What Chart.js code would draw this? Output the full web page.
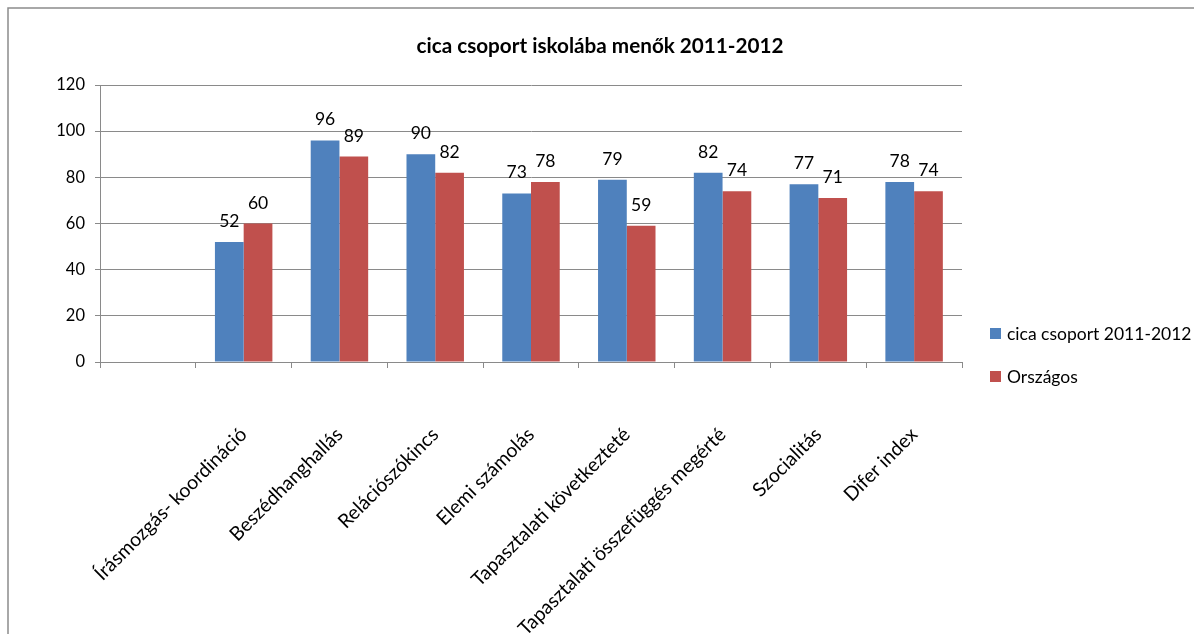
<!DOCTYPE html>
<html><head><meta charset="utf-8">
<script src="https://cdn.jsdelivr.net/npm/chart.js@4.4.1/dist/chart.umd.min.js"></script>
<style>html,body{margin:0;padding:0;background:#fff;} canvas{display:block}</style>
</head><body>
<canvas id="c" width="1194" height="634"></canvas>
<script>
const chartTitle = 'cica csoport iskolába menők 2011-2012';
const categories = ['', 'Írásmozgás- koordináció', 'Beszédhanghallás', 'Relációszókincs', 'Elemi számolás', 'Tapasztalati következtetés', 'Tapasztalati összefüggés megértése', 'Szocialitás', 'Difer index'];
const tickLabels = ['', 'Írásmozgás- koordináció', 'Beszédhanghallás', 'Relációszókincs', 'Elemi számolás', 'Tapasztalati következteté', 'Tapasztalati összefüggés megérté', 'Szocialitás', 'Difer index'];
const seriesNames = ['cica csoport 2011-2012', 'Országos'];
const groupValues = [null, 52, 96, 90, 73, 79, 82, 77, 78];
const nationalValues = [null, 60, 89, 82, 78, 59, 74, 71, 74];
const yMin = 0, yMax = 120, yStep = 20;

const FONT = 'Lato, "Open Sans", sans-serif';
const GRID = '#8a8a8a';
const COLORS = ['#4F81BD', '#C0504D'];

const decor = {
  id: 'decor',
  beforeDraw(chart) {
    const ctx = chart.ctx;
    ctx.save();
    ctx.fillStyle = '#fff';
    ctx.fillRect(0, 0, chart.width, chart.height);
    ctx.strokeStyle = '#8c8c8c';
    ctx.lineWidth = 1.5;
    ctx.beginPath();
    ctx.moveTo(8, chart.height);
    ctx.lineTo(8, 8);
    ctx.lineTo(chart.width, 8);
    ctx.stroke();
    ctx.restore();
  },
  afterDatasetsDraw(chart) {
    const ctx = chart.ctx;
    ctx.save();
    ctx.font = '17.5px ' + FONT;
    ctx.fillStyle = '#000';
    ctx.textAlign = 'center';
    ctx.textBaseline = 'alphabetic';
    chart.data.datasets.forEach((ds, i) => {
      const meta = chart.getDatasetMeta(i);
      meta.data.forEach((el, j) => {
        const v = ds.data[j];
        if (v === null || v === undefined) return;
        ctx.fillText(String(v), el.x, el.y - 15);
      });
    });
    ctx.restore();
  },
  afterDraw(chart) {
    const ctx = chart.ctx;
    ctx.save();
    ctx.fillStyle = '#000';
    ctx.font = 'bold 20.7px ' + FONT;
    ctx.textAlign = 'center';
    ctx.textBaseline = 'alphabetic';
    ctx.fillText(chartTitle, 600, 53);
    // legend
    ctx.font = '17.5px ' + FONT;
    ctx.textAlign = 'left';
    ctx.textBaseline = 'middle';
    const ys = [328, 371];
    chart.data.datasets.forEach((ds, i) => {
      ctx.fillStyle = ds.backgroundColor;
      ctx.fillRect(990, ys[i], 11, 11);
      ctx.fillStyle = '#000';
      ctx.fillText(ds.label, 1007, ys[i] + 6);
    });
    ctx.restore();
  }
};

new Chart(document.getElementById('c'), {
  type: 'bar',
  data: {
    labels: categories,
    datasets: [
      { label: seriesNames[0], data: groupValues, backgroundColor: COLORS[0], borderWidth: 0 },
      { label: seriesNames[1], data: nationalValues, backgroundColor: COLORS[1], borderWidth: 0 }
    ]
  },
  options: {
    responsive: false,
    animation: false,
    layout: { padding: { top: 85, left: 0, right: 232, bottom: 0 } },
    categoryPercentage: 0.6,
    barPercentage: 1.0,
    plugins: { legend: { display: false }, title: { display: false }, tooltip: { enabled: false } },
    scales: {
      x: {
        afterFit(scale) { scale.height = 634 - 362; },
        grid: { offset: true, drawOnChartArea: false, tickLength: 6, color: GRID },
        border: { color: GRID },
        ticks: {
          autoSkip: false, minRotation: 45, maxRotation: 45, padding: 55,
          color: '#000', font: { family: FONT, size: 19.5 },
          callback: (v, i) => tickLabels[i]
        }
      },
      y: {
        min: yMin, max: yMax,
        afterFit(scale) { scale.width = 100; },
        grid: { color: GRID, tickLength: 5 },
        border: { color: GRID },
        ticks: { stepSize: yStep, padding: 10, color: '#000', font: { family: FONT, size: 16.5 } }
      }
    }
  },
  plugins: [decor]
});
</script>
</body></html>
